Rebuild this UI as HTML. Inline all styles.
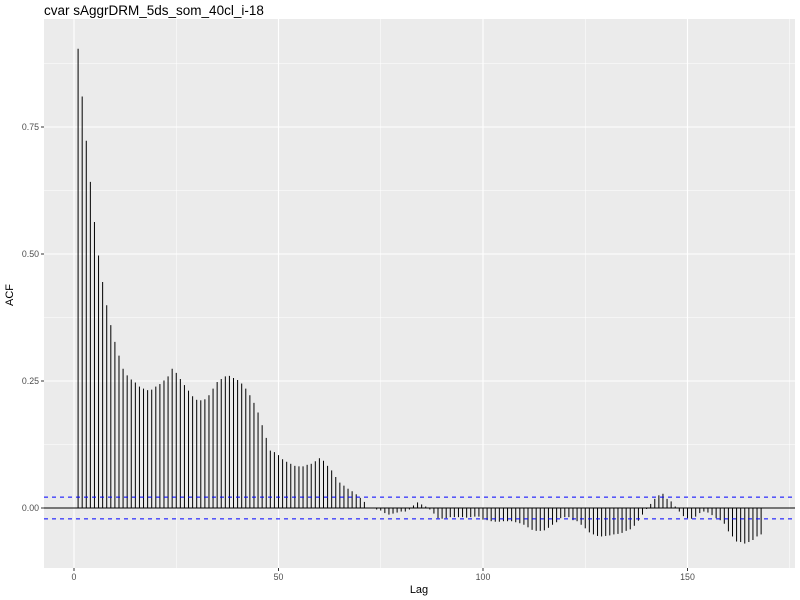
<!DOCTYPE html>
<html><head><meta charset="utf-8"><style>
html,body{margin:0;padding:0;background:#fff;}
svg{display:block;font-family:"Liberation Sans",sans-serif;}
</style></head><body>
<svg id="chart" width="800" height="600" xmlns="http://www.w3.org/2000/svg">
<rect x="0" y="0" width="800" height="600" fill="#fff"/>
<text x="44" y="15" font-size="13.5" fill="#000">cvar sAggrDRM_5ds_som_40cl_i-18</text>
<rect x="44" y="19" width="751" height="549" fill="#EBEBEB"/>
<g id="grid"></g>
<g id="bars"></g>
<g id="axes"></g>
<text x="419" y="593" font-size="11" text-anchor="middle" fill="#000">Lag</text>
<text x="13" y="295" font-size="11" text-anchor="middle" fill="#000" transform="rotate(-90 13 295)">ACF</text>
</svg>
<script>
const acfValues = [0.904,0.810,0.723,0.642,0.563,0.497,0.445,0.399,0.360,0.327,
0.300,0.274,0.261,0.253,0.247,0.239,0.235,0.232,0.233,0.239,
0.244,0.251,0.259,0.274,0.266,0.254,0.242,0.231,0.220,0.213,
0.212,0.214,0.222,0.235,0.248,0.254,0.259,0.260,0.256,0.252,
0.245,0.235,0.222,0.207,0.188,0.163,0.138,0.113,0.110,0.104,
0.096,0.091,0.087,0.083,0.082,0.082,0.085,0.087,0.092,0.098,
0.093,0.083,0.074,0.061,0.050,0.044,0.038,0.033,0.027,0.020,
0.012,0.001,0.000,-0.003,-0.005,-0.010,-0.013,-0.011,-0.009,-0.007,
-0.007,-0.003,0.005,0.011,0.007,0.003,-0.003,-0.011,-0.020,-0.021,
-0.020,-0.018,-0.018,-0.018,-0.018,-0.019,-0.018,-0.017,-0.017,-0.023,
-0.024,-0.026,-0.027,-0.027,-0.026,-0.026,-0.026,-0.028,-0.030,-0.033,
-0.038,-0.043,-0.045,-0.045,-0.044,-0.039,-0.033,-0.028,-0.020,-0.018,
-0.018,-0.024,-0.026,-0.033,-0.040,-0.048,-0.052,-0.055,-0.056,-0.055,
-0.054,-0.052,-0.051,-0.049,-0.045,-0.042,-0.035,-0.025,-0.013,-0.002,
0.008,0.018,0.025,0.028,0.018,0.013,0.003,-0.007,-0.016,-0.020,
-0.021,-0.017,-0.010,-0.007,-0.009,-0.014,-0.020,-0.024,-0.031,-0.046,
-0.056,-0.066,-0.067,-0.070,-0.067,-0.063,-0.056,-0.052];
const ciBound = [0.0215];
const xTicks = [0,50,100,150];
const xTickLabels = ["0","50","100","150"];
const yTicks = [0,0.25,0.5,0.75];
const yTickLabels = ["0.00","0.25","0.50","0.75"];

const NS = "http://www.w3.org/2000/svg";
const X0 = 74, XS = 4.09, Y0 = 508, YS = 508;
const PL = 44, PR = 795, PT = 19, PB = 568;
function xPos(l){ return X0 + l*XS; }
function yPos(v){ return Y0 - v*YS; }
function mk(parent, tag, attrs){
  const e = document.createElementNS(NS, tag);
  for (const k in attrs) e.setAttribute(k, attrs[k]);
  parent.appendChild(e); return e;
}
const grid = document.getElementById('grid');
const bars = document.getElementById('bars');
const axes = document.getElementById('axes');

// minor gridlines
for (let i=0;i<xTicks.length;i++){
  const m = xTicks[i]-25;
  const xm = xPos(m);
  if (xm>PL && xm<PR){
    const l = mk(grid,'line',{x1:xm,x2:xm,y1:PT,y2:PB,stroke:'#fff','stroke-width':0.5});
    
    
  }
}
{
  const xm = xPos(xTicks[xTicks.length-1]+25);
  if (xm<PR){ const l = mk(grid,'line',{x1:xm,x2:xm,y1:PT,y2:PB,stroke:'#fff','stroke-width':0.5});
    
     }
}
for (let v=-0.125; v<=0.9; v+=0.25){
  const ym = yPos(v);
  if (ym>PT && ym<PB){
    const l = mk(grid,'line',{x1:PL,x2:PR,y1:ym,y2:ym,stroke:'#fff','stroke-width':0.5});
    
    
  }
}
// major gridlines + ticks
xTicks.forEach((t,i)=>{
  const x = xPos(t);
  const g = mk(grid,'line',{x1:x,x2:x,y1:PT,y2:PB,stroke:'#fff','stroke-width':1.1});
  
  
  const tk = mk(axes,'line',{x1:x,x2:x,y1:PB,y2:PB+3,stroke:'#333','stroke-width':1});
  
  
  const tx = mk(axes,'text',{x:x,y:PB+12,'font-size':8.8,'text-anchor':'middle',fill:'#4D4D4D'});
  tx.textContent = xTickLabels[i];
  
  
});
yTicks.forEach((t,i)=>{
  const y = yPos(t);
  const g = mk(grid,'line',{x1:PL,x2:PR,y1:y,y2:y,stroke:'#fff','stroke-width':1.1});
  
  
  const tk = mk(axes,'line',{x1:PL-3,x2:PL,y1:y,y2:y,stroke:'#333','stroke-width':1});
  
  
  const tx = mk(axes,'text',{x:PL-5,y:y+3,'font-size':8.8,'text-anchor':'end',fill:'#4D4D4D'});
  tx.textContent = yTickLabels[i];
  
  
});
// zero line
{
  const z = mk(bars,'line',{x1:PL,x2:PR,y1:yPos(0),y2:yPos(0),stroke:'#000','stroke-width':1});
  
  
}
// bars
acfValues.forEach((v,i)=>{
  const x = xPos(i+1);
  const b = mk(bars,'line',{x1:x,x2:x,y1:yPos(0),y2:yPos(v),stroke:'#000','stroke-width':1});
  
  
});
// confidence lines
[ciBound[0], -ciBound[0]].forEach(c=>{
  const l = mk(bars,'line',{x1:PL,x2:PR,y1:yPos(c),y2:yPos(c),stroke:'#0000FF','stroke-width':1,'stroke-dasharray':'4,4'});
  
  
});
</script>
</body></html>
